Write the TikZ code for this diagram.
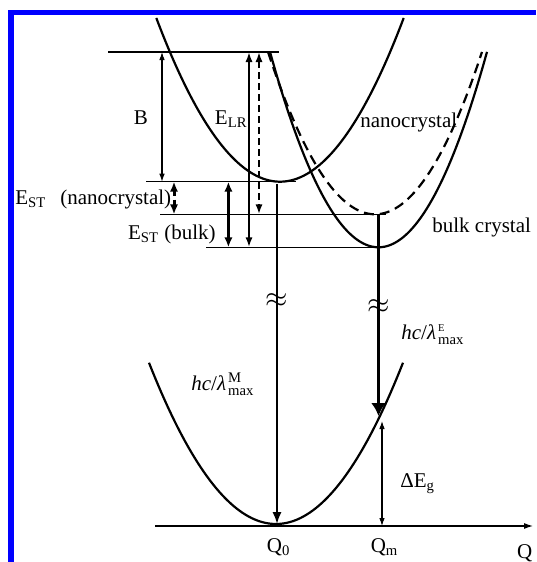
\documentclass[tikz,border=0pt]{standalone}
\usepackage{fontspec}
\setmainfont{Liberation Serif}
\usepackage{amsmath}
\usetikzlibrary{arrows.meta}

\begin{document}
\begin{tikzpicture}[
    x=0.5pt, y=-0.5pt,
    frame/.style={draw=blue, line width=2.6pt},
    level/.style={line width=0.55pt},
    curve/.style={line width=1.1pt},
    dim/.style={line width=0.55pt, {Latex[length=4pt,width=2.8pt]}-{Latex[length=4pt,width=2.8pt]}},
    gap/.style={line width=1pt, {Latex[length=5pt,width=3.6pt]}-{Latex[length=5pt,width=3.6pt]}},
    est/.style={line width=1.5pt, {Latex[length=5pt,width=4.2pt]}-{Latex[length=5pt,width=4.2pt]}},
    drop/.style={line width=1pt, -{Latex[length=6pt,width=4.6pt]}},
    emit/.style={line width=1.8pt, -{Latex[length=6.5pt,width=7.5pt]}},
    brk/.style={font=\fontsize{14}{14}\selectfont},
    every node/.style={font=\fontsize{10.5}{12}\selectfont, inner sep=0pt}
]
\useasboundingbox (0,0) rectangle (536,562);

% frame
\draw[frame] (11,562) -- (11,12.7) -- (536,12.7);

% potential curves
\draw[curve] plot[domain=156.3:403.7, samples=80]
    (\x, {181.7-1.07*((\x-280)/10)*((\x-280)/10)});
\draw[curve] plot[domain=270:487, samples=80]
    (\x, {247.3-1.66*((\x-378.5)/10)*((\x-378.5)/10)});
\draw[curve, dash pattern=on 5pt off 3pt] plot[domain=268:482, samples=80]
    (\x, {214.3-1.418*((\x-375)/10)*((\x-375)/10)});
\draw[curve] plot[domain=149:403, samples=80]
    (\x, {524-1.00*((\x-276)/10)*((\x-276)/10)});

% levels
\coordinate (topL) at (108,52);
\coordinate (topR) at (278.6,52);
\coordinate (nanoL) at (146,181.7);
\coordinate (nanoR) at (296,181.7);
\coordinate (vertL) at (160,214.3);
\coordinate (vertR) at (386,214.3);
\coordinate (bulkL) at (206,247.3);
\coordinate (bulkR) at (382,247.3);
\coordinate (axL) at (155,526);
\coordinate (axR) at (533,526);

\draw[level] (topL) -- (topR);
\draw[level] (nanoL) -- (nanoR);
\draw[level] (vertL) -- (vertR);
\draw[level] (bulkL) -- (bulkR);
\draw[level, -{Latex[length=4.5pt,width=3pt]}] (axL) -- (axR);

% arrows
\coordinate (bT) at (162,52);
\coordinate (bB) at (162,181.7);
\coordinate (lrT) at (249,52);
\coordinate (lrB) at (249,247.3);
\coordinate (dT) at (259,52);
\coordinate (dB) at (259,214.3);
\coordinate (esnT) at (174,181.7);
\coordinate (esnB) at (174,214.3);
\coordinate (esbT) at (228.4,181.7);
\coordinate (esbB) at (228.4,247.3);
\coordinate (nanoV) at (277,184);
\coordinate (nanoEnd) at (277,524);
\coordinate (dashV) at (378.5,214.3);
\coordinate (emitEnd) at (378.5,416);
\coordinate (dEgT) at (382,421);
\coordinate (dEgB) at (382,526);

\draw[dim] (bT) -- (bB);
\draw[gap] (lrT) -- (lrB);
\draw[gap, dash pattern=on 3.5pt off 2pt] (dT) -- (dB);
\draw[est, dash pattern=on 2.5pt off 2pt] (esnT) -- (esnB);
\draw[est] (esbT) -- (esbB);
\draw[drop] (nanoV) -- (nanoEnd);
\draw[emit] (dashV) -- (emitEnd);
\draw[dim] (dEgT) -- (dEgB);

% breaks
\node[brk] (brkM) at (277,301) {$\approx$};
\node[brk] (brkE) at (378.5,306.5) {$\approx$};

% labels
\node[anchor=base] (bLbl) at (141,124) {B};
\node[anchor=base east] (elrLbl) at (248,124) {E\textsubscript{LR}};
\node[anchor=base west] (nanoLbl) at (360,127) {nanocrystal};
\node[anchor=base west] (bulkLbl) at (432,232) {bulk crystal};
\node[anchor=base west] (estNano) at (15,204) {E\textsubscript{ST}\hspace{7pt}(nanocrystal)};
\node[anchor=base east] (estBulk) at (216,239) {E\textsubscript{ST} (bulk)};
\node[anchor=base west] (hcM) at (191,390) {\textit{hc}/\textit{λ}\kern1pt$^{\text{M}}_{\text{max}}$};
\node[anchor=base west] (hcE) at (401,339) {\textit{hc}/\textit{λ}\kern1pt$^{\scriptscriptstyle\text{E}}_{\text{max}}$};
\node[anchor=base west] (dEg) at (400,487) {ΔE\textsubscript{g}};
\node[anchor=base] (q0) at (278.6,552) {Q\textsubscript{0}};
\node[anchor=base] (qm) at (384.6,552) {Q\textsubscript{m}};
\node[anchor=base] (qAx) at (524.7,558) {Q};
\end{tikzpicture}
\end{document}
